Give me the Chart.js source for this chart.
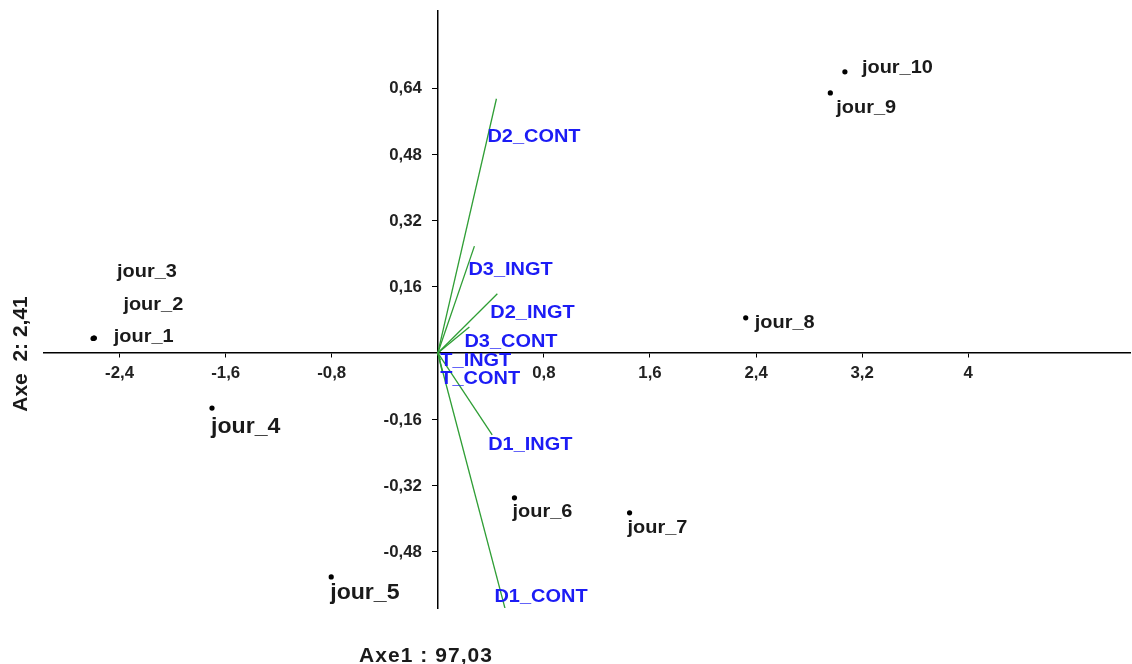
<!DOCTYPE html>
<html>
<head>
<meta charset="utf-8">
<script src="https://cdn.jsdelivr.net/npm/chart.js@4.4.1/dist/chart.umd.min.js"></script>
<style>
  html, body { margin: 0; padding: 0; background: #fff; }
  #wrap { width: 1132px; height: 664px; }
</style>
</head>
<body>
<div id="wrap"><canvas id="acp" width="1132" height="664"></canvas></div>
<script>
// Individus (jours) sur le plan factoriel 1-2
const jours = ['jour_1', 'jour_2', 'jour_3', 'jour_4', 'jour_5', 'jour_6', 'jour_7', 'jour_8', 'jour_9', 'jour_10'];
const joursX = [-2.595, -2.59, -2.60, -1.703, -0.804, 0.578, 1.446, 2.322, 2.96, 3.07];
const joursY = [0.036, 0.036, 0.035, -0.133, -0.541, -0.350, -0.386, 0.085, 0.628, 0.679];

// Variables (vecteurs depuis l'origine)
const variables = ['D2_CONT', 'D3_INGT', 'D2_INGT', 'D3_CONT', 'T_INGT', 'T_CONT', 'D1_INGT', 'D1_CONT'];
const varX = [0.442, 0.276, 0.449, 0.238, 0.019, 0.034, 0.41, 0.51];
const varY = [0.614, 0.258, 0.143, 0.063, -0.017, -0.046, -0.198, -0.621];

// Graduations
const xTicks = [-2.4, -1.6, -0.8, 0.8, 1.6, 2.4, 3.2, 4];
const yTicks = [-0.48, -0.32, -0.16, 0.16, 0.32, 0.48, 0.64];

// Décalage des étiquettes en pixels [dx, dy] et taille de police
const jourLabelShift = [[20, -1], [29, -33], [24, -67], [-1, 19], [-1, 16], [-2, 14], [-2, 15], [9, 5], [6, 15], [17, -4]];
const jourLabelSize = [19, 19, 19, 22, 22, 19, 19, 19, 19, 19];
const varLabelShift = [[-9, 38], [-6, 24], [-7, 19], [-5, 15], [0, 1], [-2, 7], [-4, 10], [-11, -13]];

const FONT = '"Liberation Sans", Arial, sans-serif';
const STRETCH = 1.05;
const fmt = v => String(v).replace('.', ',');

// texte légèrement élargi horizontalement
function drawText(ctx, txt, x, y, align, stretch) {
    ctx.save();
    ctx.translate(x, y);
    ctx.scale(stretch || STRETCH, 1);
    ctx.textAlign = align || 'left';
    ctx.fillText(txt, 0, 0);
    ctx.restore();
}

const etiquettes = {
    id: 'etiquettes',
    afterDatasetsDraw(chart) {
        const ctx = chart.ctx;
        const sx = chart.scales.x, sy = chart.scales.y;
        const x0 = sx.getPixelForValue(0), y0 = sy.getPixelForValue(0);
        ctx.save();
        ctx.textBaseline = 'middle';

        // graduations
        ctx.fillStyle = '#222';
        ctx.font = 'bold 16px ' + FONT;
        xTicks.forEach(v => drawText(ctx, fmt(v), sx.getPixelForValue(v), y0 + 21, 'center'));
        yTicks.forEach(v => drawText(ctx, fmt(v), x0 - 16, sy.getPixelForValue(v) + 1, 'right'));

        // noms des variables en bleu
        ctx.fillStyle = '#1c1cf5';
        ctx.font = 'bold 19px ' + FONT;
        variables.forEach((name, i) => {
            const end = chart.getDatasetMeta(i).data[1];
            drawText(ctx, name, end.x + varLabelShift[i][0], end.y + varLabelShift[i][1]);
        });

        // noms des jours
        ctx.fillStyle = '#1a1a1a';
        const meta = chart.getDatasetMeta(variables.length);
        meta.data.forEach((pt, i) => {
            ctx.font = 'bold ' + jourLabelSize[i] + 'px ' + FONT;
            drawText(ctx, jours[i], pt.x + jourLabelShift[i][0], pt.y + jourLabelShift[i][1]);
        });

        // titres des axes
        ctx.font = 'bold 20px ' + FONT;
        ctx.letterSpacing = '1px';
        drawText(ctx, 'Axe1 : 97,03', 426, 656, 'center');
        ctx.letterSpacing = '0px';
        ctx.translate(21, 354);
        ctx.rotate(-Math.PI / 2);
        drawText(ctx, 'Axe  2: 2,41', 0, 0, 'center');
        ctx.restore();
    }
};

const vectorSets = variables.map((name, i) => ({
    label: name,
    data: [{ x: 0, y: 0 }, { x: varX[i], y: varY[i] }],
    showLine: true,
    borderColor: '#2f9e35',
    borderWidth: 1.3,
    pointRadius: 0
}));

const jourSet = {
    label: 'jours',
    data: jours.map((j, i) => ({ x: joursX[i], y: joursY[i] })),
    pointRadius: 2.6,
    backgroundColor: '#000',
    borderWidth: 0
};

new Chart(document.getElementById('acp'), {
    type: 'scatter',
    data: { datasets: vectorSets.concat([jourSet]) },
    options: {
        responsive: false,
        animation: false,
        layout: { autoPadding: false, padding: { left: 44, right: 2, top: 11, bottom: 56 } },
        plugins: { legend: { display: false }, tooltip: { enabled: false } },
        scales: {
            x: {
                type: 'linear',
                min: -2.97,
                max: 5.22,
                position: { y: 0 },
                afterBuildTicks: s => { s.ticks = xTicks.map(v => ({ value: v })); },
                grid: { drawOnChartArea: false, drawTicks: true, tickLength: 4, color: '#000' },
                border: { color: '#000', width: 1.5 },
                ticks: { display: false }
            },
            y: {
                type: 'linear',
                min: -0.616,
                max: 0.826,
                position: { x: 0 },
                afterBuildTicks: s => { s.ticks = yTicks.map(v => ({ value: v })); },
                grid: { drawOnChartArea: false, drawTicks: true, tickLength: 5, color: '#000' },
                border: { color: '#000', width: 1.5 },
                ticks: { display: false }
            }
        }
    },
    plugins: [etiquettes]
});
</script>
</body>
</html>
